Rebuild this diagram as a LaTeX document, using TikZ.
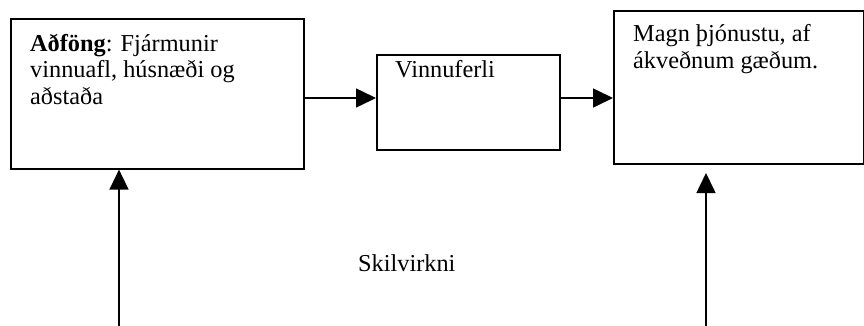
\documentclass[tikz,border=0pt]{standalone}
\usepackage{fontspec}
\setmainfont{Liberation Serif}
\usetikzlibrary{arrows.meta}
\begin{document}
\begin{tikzpicture}[x=1pt,y=-1pt,
  boxstyle/.style={draw,line width=1.6pt,rectangle,inner sep=0pt,anchor=north west},
  arr/.style={line width=1.6pt,-{Triangle[length=20pt,width=19pt]}},
  txt/.style={inner sep=0pt,anchor=base west,align=left,font=\fontsize{24.3}{26.2}\selectfont}]
\useasboundingbox (0,0) rectangle (864,325);
\node[boxstyle,minimum width=293pt,minimum height=150pt] (b1) at (10,18) {};
\node[boxstyle,minimum width=183pt,minimum height=95pt] (b2) at (376,54) {};
\node[boxstyle,minimum width=250pt,minimum height=153pt] (b3) at (613,10) {};
\node[txt] (t1) at (30,104) {\textbf{Aðföng}: Fjármunir\\vinnuafl, húsnæði og\\aðstaða};
\node[txt] (t2) at (395,77) {Vinnuferli};
\node[txt] (t3) at (633,68) {Magn þjónustu, af\\ákveðnum gæðum.};
\node[txt] (t4) at (358,271) {Skilvirkni};
\coordinate (h) at (0,98);
\coordinate (s1) at (119,326);
\coordinate (s2) at (706,326);
\coordinate (e2) at (706,173);
\draw[arr] (b1.east |- h) -- (b2.west |- h);
\draw[arr] (b2.east |- h) -- (b3.west |- h);
\draw[arr] (s1) -- (s1 |- b1.south);
\draw[arr] (s2) -- (e2);
\end{tikzpicture}
\end{document}
